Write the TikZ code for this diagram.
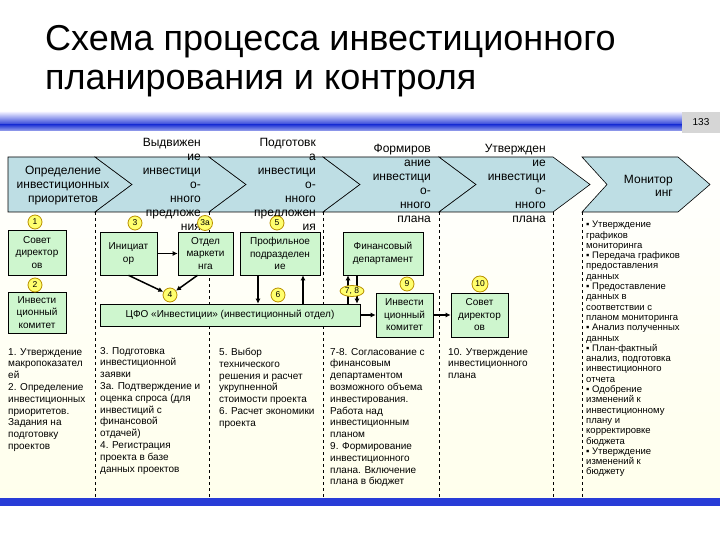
\documentclass[tikz,border=0pt]{standalone}
\usepackage{fontspec}
\setmainfont{Liberation Sans}
\usetikzlibrary{arrows.meta,shapes.geometric,positioning,calc}

\definecolor{chevfill}{RGB}{190,222,228}
\definecolor{boxfill}{RGB}{206,246,206}
\definecolor{markfill}{RGB}{255,255,110}
\definecolor{markline}{RGB}{185,145,0}
\definecolor{barblue}{RGB}{40,60,215}
\definecolor{barlight}{RGB}{238,238,255}
\definecolor{pagegray}{RGB}{214,214,214}
\definecolor{bodycream}{RGB}{255,255,236}

\begin{document}
\begin{tikzpicture}[x=1pt,y=-1pt,
	chev/.style={fill=chevfill,draw=black,line width=0.6pt},
	chevtext/.style={align=right,anchor=east,inner sep=0pt,font=\fontsize{12}{14}\selectfont},
	unit/.style={draw=black,fill=boxfill,line width=0.6pt,align=center,inner sep=1pt,font=\fontsize{10}{12.5}\selectfont},
	num/.style={circle,draw=markline,fill=markfill,line width=0.8pt,inner sep=0pt,minimum size=14pt,font=\fontsize{8.5}{9}\selectfont},
	conn/.style={line width=1.5pt,-{Latex[length=5pt,width=5pt]}},
	lanesep/.style={dashed,line width=0.6pt},
	notes/.style={align=left,anchor=north west,inner sep=0pt,font=\fontsize{10}{11.8}\selectfont}]
	\useasboundingbox (0,0) rectangle (720,540);
	\shade[top color=white,bottom color=bodycream] (0,131) rectangle (720,498);
	\node[anchor=base west,inner sep=0pt,font=\fontsize{36}{39}\selectfont] (title) at (45,51) {Схема процесса инвестиционного};
	\node[anchor=base west,inner sep=0pt,font=\fontsize{36}{39}\selectfont] (subtitle) at (45,90) {планирования и контроля};
	\shade[top color=barlight,bottom color=barblue] (0,112) rectangle (682,125);
	\shade[top color=barblue,bottom color=barblue!45!white] (0,125) rectangle (682,131);
	\fill[pagegray] (682,112) rectangle (720,133);
	\node[font=\fontsize{10}{12}\selectfont] (page) at (701,122.5) {133};
	\fill[barblue] (0,498) rectangle (720,506);

	\draw[chev] (8,157) -- (95,157) -- (132,184.5) -- (95,212) -- (8,212) -- cycle;
	\foreach \a/\b in {95/209,209/323,323/439,439/553}
		\draw[chev] (\a,157) -- (\b,157) -- (\b+37,184.5) -- (\b,212) -- (\a,212) -- (\a+37,184.5) -- cycle;
	\draw[chev] (582,157) -- (678,157) -- (710,184.5) -- (678,212) -- (582,212) -- (607,184.5) -- cycle;
	\foreach \x in {95,209,323,439,553,582}
		\draw[lanesep] (\x,212) -- (\x,497);

	\node[align=center,inner sep=0pt,font=\fontsize{12}{14}\selectfont] (stageA) at (63,185.5) {Определение\\инвестиционных\\приоритетов};
	\node[chevtext] (stageB) at (201,184.5) {Выдвижен\\ие\\инвестици\\о-\\нного\\предложе\\ния};
	\node[chevtext] (stageC) at (316,184.5) {Подготовк\\а\\инвестици\\о-\\нного\\предложен\\ия};
	\node[chevtext] (stageD) at (431,183.5) {Формиров\\ание\\инвестици\\о-\\нного\\плана};
	\node[chevtext] (stageE) at (546,183.5) {Утвержден\\ие\\инвестици\\о-\\нного\\плана};
	\node[chevtext,font=\fontsize{12}{13}\selectfont] (stageF) at (673,186) {Монитор\\инг};

	\node[unit,minimum width=58pt,minimum height=45pt] (board) at (37,252.5) {Совет\\директор\\ов};
	\node[unit,minimum width=58pt,minimum height=41pt] (committee) at (37,312.5) {Инвести\\ционный\\комитет};
	\node[unit,minimum width=57pt,minimum height=43pt] (initiator) at (128.5,253.5) {Инициат\\ор};
	\node[unit,minimum width=55pt,minimum height=43pt] (marketing) at (205.5,253.5) {Отдел\\маркети\\нга};
	\node[unit,minimum width=80pt,minimum height=43pt] (profile) at (280,253.5) {Профильное\\подразделен\\ие};
	\node[unit,minimum width=260pt,minimum height=22pt] (cfo) at (230,315) {ЦФО «Инвестиции» (инвестиционный отдел)};
	\node[unit,minimum width=80pt,minimum height=43pt] (finance) at (383,253.5) {Финансовый\\департамент};
	\node[unit,minimum width=57pt,minimum height=44pt] (committeeB) at (404.5,315) {Инвести\\ционный\\комитет};
	\node[unit,minimum width=57pt,minimum height=44pt] (boardB) at (479.5,315) {Совет\\директор\\ов};

	\node[num] (n1) at (35,222) {1};
	\node[num] (n2) at (35,285) {2};
	\node[num] (n3) at (135,223) {3};
	\node[num,minimum size=15pt] (n3a) at (205,223) {3а};
	\node[num] (n4) at (170,295) {4};
	\node[num] (n5) at (277,223) {5};
	\node[num] (n6) at (278,295) {6};
	\node[num] (n9) at (407,284) {9};
	\node[num,minimum size=16pt] (n10) at (480,284) {10};

	\draw[conn] (initiator) -- (marketing);
	\draw[conn] (initiator.south) -- (n4);
	\draw[conn] ([xshift=-8pt]marketing.south) -- (n4);
	\draw[conn] ([xshift=-22pt]profile.south) -- ([xshift=-22pt]profile.south |- cfo.north);
	\draw[conn] ([xshift=23pt]profile.south |- cfo.north) -- ([xshift=23pt]profile.south);
	\draw[conn] ([xshift=-35pt]finance.south |- cfo.north) -- ([xshift=-35pt]finance.south);
	\draw[conn] ([xshift=-26pt]finance.south) -- ([xshift=-26pt]finance.south |- cfo.north);
	\draw[conn] (cfo.east) -- (cfo.east -| committeeB.west);
	\draw[conn] (committeeB) -- (boardB);
	\node[num,ellipse,minimum width=24pt,minimum height=11pt] (n78) at (352,291) {7, 8};

	\node[notes] (noteA) at (8,348) {1. Утверждение\\макропоказател\\ей\\2. Определение\\инвестиционных\\приоритетов.\\Задания на\\подготовку\\проектов};
	\node[notes] (noteB) at (100,347) {3. Подготовка\\инвестиционной\\заявки\\3а. Подтверждение и\\оценка спроса (для\\инвестиций с\\финансовой\\отдачей)\\4. Регистрация\\проекта в базе\\данных проектов};
	\node[notes] (noteC) at (219,348) {5. Выбор\\технического\\решения и расчет\\укрупненной\\стоимости проекта\\6. Расчет экономики\\проекта};
	\node[notes] (noteD) at (330,348) {7-8. Согласование с\\финансовым\\департаментом\\возможного объема\\инвестирования.\\Работа над\\инвестиционным\\планом\\9. Формирование\\инвестиционного\\плана. Включение\\плана в бюджет};
	\node[notes] (noteE) at (448,348) {10. Утверждение\\инвестиционного\\плана};
	\node[notes,font=\fontsize{9.5}{10.3}\selectfont] (noteF) at (586,221) {▪ Утверждение\\графиков\\мониторинга\\▪ Передача графиков\\предоставления\\данных\\▪ Предоставление\\данных в\\соответствии с\\планом мониторинга\\▪ Анализ полученных\\данных\\▪ План-фактный\\анализ, подготовка\\инвестиционного\\отчета\\▪ Одобрение\\изменений к\\инвестиционному\\плану и\\корректировке\\бюджета\\▪ Утверждение\\изменений к\\бюджету};
\end{tikzpicture}
\end{document}
